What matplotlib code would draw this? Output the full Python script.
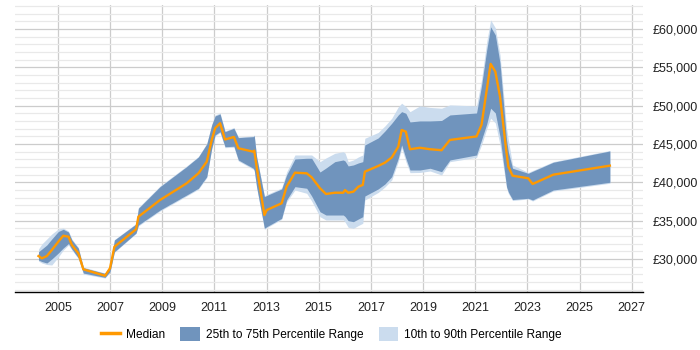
import matplotlib
matplotlib.use("Agg")
import matplotlib.pyplot as plt
from matplotlib.ticker import MultipleLocator, FuncFormatter
from matplotlib.patches import Patch
from matplotlib.lines import Line2D

years = [2004.26, 2004.39, 2004.58, 2004.77, 2005.02, 2005.21, 2005.41, 2005.54, 2005.79, 2005.98,
         2006.81, 2007.00, 2007.17, 2008.00, 2008.09, 2008.92, 2009.94, 2010.39, 2010.71, 2010.90,
         2011.03, 2011.22, 2011.41, 2011.75, 2011.92, 2012.49, 2012.53, 2012.62, 2012.92, 2013.01,
         2013.58, 2013.77, 2014.09, 2014.54, 2014.73, 2015.05, 2015.28, 2015.62, 2015.94, 2016.01,
         2016.13, 2016.33, 2016.52, 2016.69, 2016.77, 2017.28, 2017.54, 2017.80, 2018.05, 2018.18,
         2018.34, 2018.50, 2018.88, 2019.27, 2019.71, 2020.03, 2021.05, 2021.24, 2021.44, 2021.59,
         2021.77, 2021.95, 2022.20, 2022.27, 2022.43, 2023.03, 2023.20, 2023.99, 2026.16]

median = [30390, 30090, 30390, 31170, 32260, 33040, 32910, 31830, 30740, 28660,
          27820, 28790, 31600, 33880, 35520, 37700, 39880, 41180, 42700, 45530,
          47060, 47710, 45590, 45920, 44450, 44000, 44130, 42050, 35740, 36390,
          37270, 39440, 41260, 41180, 40660, 39230, 38480, 38650, 38650, 39000,
          38650, 38780, 39440, 39660, 41390, 42140, 42570, 43250, 44650, 46830,
          46610, 44320, 44510, 44320, 44190, 45530, 45990, 47490, 52050, 55450,
          54440, 51180, 43830, 42050, 40870, 40530, 39790, 41000, 42180]

p75 = [30950, 31300, 31830, 32610, 33590, 33880, 33520, 32480, 31400, 28860,
       28130, 29090, 32480, 34570, 36620, 39440, 42050, 43310, 45010, 47490,
       48660, 48920, 46610, 47060, 45830, 45960, 46090, 43350, 38130, 38290,
       39140, 40960, 43050, 43140, 43140, 41350, 41870, 42700, 42920, 42790,
       42140, 42270, 42530, 42700, 44880, 45790, 46700, 47710, 48790, 49220,
       49010, 47880, 48010, 48010, 48070, 48790, 49050, 52580, 57270, 60280,
       59230, 55540, 45530, 43960, 41840, 41180, 41440, 42620, 44090]

p25 = [29870, 29670, 29480, 30000, 30780, 31440, 32020, 31300, 30130, 28170,
       27610, 28340, 30950, 33390, 34440, 36390, 38350, 39230, 40740, 44450,
       46180, 46610, 44650, 44710, 42920, 41840, 41610, 39440, 34010, 34220,
       35310, 37700, 39440, 39230, 38220, 36170, 35740, 35740, 35740, 35550,
       35000, 34870, 35220, 35520, 38220, 39140, 39790, 40740, 43140, 44880,
       43140, 41610, 41610, 41840, 41390, 42920, 43570, 45530, 47620, 49670,
       49050, 45960, 39440, 38740, 37760, 37920, 37700, 39000, 40010]

p90 = [31300, 31960, 32610, 33260, 33920, 34050, 33650, 32610, 31510, 28960,
       28170, 29150, 32540, 34630, 36720, 39530, 42140, 43380, 45080, 47560,
       48790, 49050, 46700, 47150, 45920, 46050, 46180, 43440, 38260, 38420,
       39270, 41350, 43570, 43570, 43570, 42700, 43180, 43790, 44000, 43830,
       42700, 42920, 43310, 43570, 45750, 46510, 47360, 48360, 49840, 50320,
       49880, 49220, 49970, 49770, 49670, 50100, 49970, 53360, 58320, 61190,
       60150, 56620, 47100, 45530, 42270, 41290, 41550, 42700, 44160]

p10 = [29740, 29480, 29280, 29220, 30260, 31170, 31830, 31170, 30040, 28040,
       27520, 28260, 30870, 33330, 34310, 36260, 38220, 39100, 40610, 44320,
       46050, 46480, 44520, 44580, 42790, 41710, 41480, 39310, 33880, 34090,
       35180, 37440, 39000, 38570, 37570, 35520, 35090, 35090, 35090, 34830,
       34140, 34010, 34370, 34660, 37700, 38680, 39400, 40310, 42700, 44450,
       42700, 41260, 41290, 41480, 40960, 42700, 43250, 44880, 46970, 48360,
       47750, 44880, 39270, 38550, 37630, 37830, 37570, 38870, 39880]

x_ticks = [2005, 2007, 2009, 2011, 2013, 2015, 2017, 2019, 2021, 2023, 2025, 2027]
y_ticks = [30000, 35000, 40000, 45000, 50000, 55000, 60000]

plt.rcParams['font.family'] = ['Liberation Sans', 'DejaVu Sans']

fig = plt.figure(figsize=(7, 3.5), dpi=100)
ax = fig.add_axes([15/700, 1-292/350, 628/700, 287/350])

light = '#cbdcee'
dark = '#7094bd'
orange = '#ff9900'

ax.fill_between(years, p10, p90, color=light, lw=0, zorder=2)
ax.fill_between(years, p25, p75, color=dark, lw=0, zorder=3)
ax.plot(years, median, color=orange, lw=1.7, zorder=4, solid_joinstyle='round')

ax.set_xlim(2003.36, 2027.43)
ax.set_ylim(25700, 63130)

ax.set_xticks(x_ticks)
ax.set_xticklabels([str(t) for t in x_ticks])
ax.set_yticks(y_ticks)
ax.yaxis.set_minor_locator(MultipleLocator(1000))
ax.yaxis.set_major_formatter(FuncFormatter(lambda v, p: '£{:,.0f}'.format(v)))
ax.yaxis.tick_right()

ax.grid(True, which='major', axis='both', color='#cccccc', lw=0.9, zorder=0)
ax.grid(True, which='minor', axis='y', color='#e9e9e9', lw=0.9, zorder=0)
ax.set_axisbelow(True)

for s in ['top', 'left', 'right']:
    ax.spines[s].set_visible(False)
ax.spines['bottom'].set_color('#000000')
ax.spines['bottom'].set_linewidth(1.0)

ax.tick_params(axis='x', length=0, pad=7.5, labelsize=9, colors='#222222')
ax.tick_params(axis='y', which='both', length=0, pad=7, labelsize=9, colors='#222222')

handles = [Line2D([0], [0], color=orange, lw=2.5),
           Patch(facecolor=dark, edgecolor='none'),
           Patch(facecolor=light, edgecolor='none')]
labels = ['Median', '25th to 75th Percentile Range', '10th to 90th Percentile Range']
fig.legend(handles, labels, loc='center', bbox_to_anchor=(0.473, 1-334/350), ncol=3,
           frameon=False, fontsize=8.6, handlelength=1.6, handleheight=1.4,
           columnspacing=1.3, handletextpad=0.5)

fig.savefig('out.png', dpi=100, facecolor='white')
